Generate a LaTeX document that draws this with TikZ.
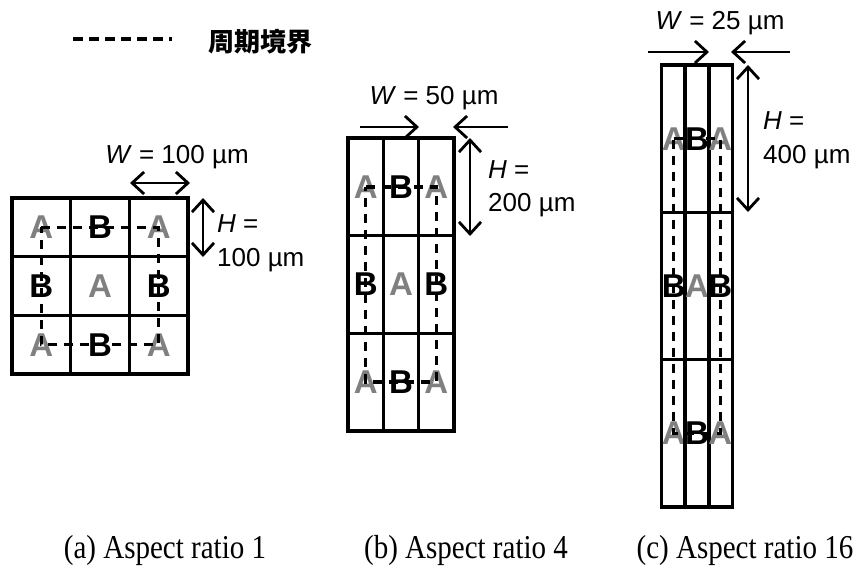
\documentclass[tikz,border=0pt]{standalone}
\usepackage{fontspec}
\setmainfont{Liberation Serif}
\setsansfont{Liberation Sans}
\newfontfamily\cjkfont{Noto Sans CJK JP}
\usetikzlibrary{arrows.meta}
\definecolor{agray}{RGB}{128,128,128}
\newcommand\cellletter[1]{\ifnum#1=0 \textcolor{agray}{A}\else B\fi}
\tikzset{
  cellbase/.style={draw=black, line width=3.2pt, inner sep=0pt, outer sep=0pt,
    font=\sffamily\bfseries\fontsize{33}{33}\selectfont},
  cella/.style={cellbase, minimum width=58.67pt, minimum height=58.67pt},
  cellb/.style={cellbase, minimum width=35.33pt, minimum height=97.67pt},
  cellc/.style={cellbase, minimum width=23.33pt, minimum height=147.33pt},
  pbound/.style={line width=3.6pt, dash pattern=on 9pt off 7pt},
  dim/.style={line width=2.8pt, arrows={-Straight Barb[length=12pt,width=22pt]}},
  ddim/.style={line width=2.8pt, arrows={Straight Barb[length=12pt,width=22pt]-Straight Barb[length=12pt,width=22pt]}},
  lbl/.style={font=\sffamily\fontsize{26}{26}\selectfont, inner sep=0pt},
  captext/.style={font=\rmfamily\fontsize{29}{29}\selectfont, inner sep=0pt}
}
\begin{document}
\begin{tikzpicture}[x=1pt,y=-1pt]
\useasboundingbox (0,0) rectangle (856,567);

% legend
\coordinate (lg1) at (73,39);
\coordinate (lg2) at (172,39);
\draw[line width=3.6pt, dash pattern=on 10pt off 6pt] (lg1) -- (lg2);
\node[inner sep=0pt, font=\cjkfont\bfseries\fontsize{26}{26}\selectfont] (lgt) at (260,42) {周期境界};

% panel (a)
\foreach \i in {1,2,3} {
  \foreach \j in {1,2,3} {
    \pgfmathtruncatemacro\s{mod(\i+\j,2)}
    \node[cella] (a-\i-\j) at ({12+58.67*(\j-0.5)},{198+58.67*(\i-0.5)}) {\cellletter{\s}};
  }
}
\draw[pbound] (a-1-1.center) -- (a-1-3.center) -- (a-3-3.center) -- (a-3-1.center) -- cycle;
\coordinate (aw1) at (130,183);
\coordinate (aw2) at (190,183);
\draw[ddim] (aw1) -- (aw2);
\coordinate (ah1) at (203,198);
\coordinate (ah2) at (203,257);
\draw[ddim] (ah1) -- (ah2);
\node[lbl, anchor=base] (awt) at (177,163) {\textit{W} = 100 µm};
\node[lbl, anchor=base west] (aht1) at (217,232) {\textit{H} =};
\node[lbl, anchor=base west] (aht2) at (217,266) {100 µm};

% panel (b)
\foreach \i in {1,2,3} {
  \foreach \j in {1,2,3} {
    \pgfmathtruncatemacro\s{mod(\i+\j,2)}
    \node[cellb] (b-\i-\j) at ({348+35.33*(\j-0.5)},{138+97.67*(\i-0.5)}) {\cellletter{\s}};
  }
}
\draw[pbound] (b-1-1.center) -- (b-1-3.center) -- (b-3-3.center) -- (b-3-1.center) -- cycle;
\coordinate (bw1) at (360,127);
\coordinate (bw2) at (419,127);
\coordinate (bw3) at (508,127);
\coordinate (bw4) at (453,127);
\draw[dim] (bw1) -- (bw2);
\draw[dim] (bw3) -- (bw4);
\coordinate (bh1) at (470,138);
\coordinate (bh2) at (470,236);
\draw[ddim] (bh1) -- (bh2);
\node[lbl, anchor=base] (bwt) at (434,105) {\textit{W} = 50 µm};
\node[lbl, anchor=base west] (bht1) at (488,178) {\textit{H} =};
\node[lbl, anchor=base west] (bht2) at (488,211) {200 µm};

% panel (c)
\foreach \i in {1,2,3} {
  \foreach \j in {1,2,3} {
    \pgfmathtruncatemacro\s{mod(\i+\j,2)}
    \node[cellc] (c-\i-\j) at ({662+23.33*(\j-0.5)},{65+147.33*(\i-0.5)}) {\cellletter{\s}};
  }
}
\draw[pbound] (c-1-1.center) -- (c-1-3.center) -- (c-3-3.center) -- (c-3-1.center) -- cycle;
\coordinate (cw1) at (648,52);
\coordinate (cw2) at (709,52);
\coordinate (cw3) at (790,52);
\coordinate (cw4) at (731,52);
\draw[dim] (cw1) -- (cw2);
\draw[dim] (cw3) -- (cw4);
\coordinate (ch1) at (748,65);
\coordinate (ch2) at (748,212);
\draw[ddim] (ch1) -- (ch2);
\node[lbl, anchor=base] (cwt) at (720,30) {\textit{W} = 25 µm};
\node[lbl, anchor=base west] (cht1) at (763,130) {\textit{H} =};
\node[lbl, anchor=base west] (cht2) at (763,163) {400 µm};

% captions
\node[captext, anchor=base] (capa) at (165,558) {\scalebox{1}[1.15]{(a) Aspect ratio 1}};
\node[captext, anchor=base] (capb) at (466,558) {\scalebox{1}[1.15]{(b) Aspect ratio 4}};
\node[captext, anchor=base] (capc) at (745,558) {\scalebox{1}[1.15]{(c) Aspect ratio 16}};
\end{tikzpicture}
\end{document}
